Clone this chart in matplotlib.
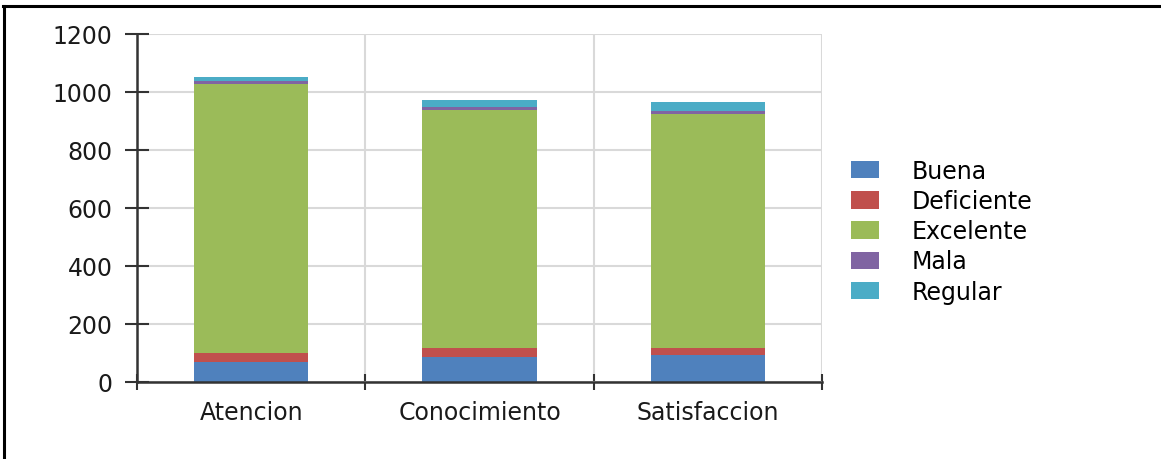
import numpy as np
import matplotlib
matplotlib.use('Agg')
import matplotlib.pyplot as plt
from matplotlib.lines import Line2D

plt.rcParams['font.family'] = ['DejaVu Sans']

categories = ['Atencion', 'Conocimiento', 'Satisfaccion']
series_names = ['Buena', 'Deficiente', 'Excelente', 'Mala', 'Regular']
buena = [70, 86, 94]
deficiente = [30, 31, 23]
excelente = [928, 821, 808]
mala = [10, 10, 8]
regular = [14, 25, 31]
colors = ['#4F81BD', '#C0504D', '#9BBB59', '#8064A2', '#4BACC6']

fig = plt.figure(figsize=(11.61, 4.60), dpi=100)
ax = fig.add_axes([137/1161, 77/460, (822-137)/1161, (383-35)/460])

x = np.arange(len(categories))
bottom = np.zeros(len(categories))
for name, vals, c in zip(series_names, [buena, deficiente, excelente, mala, regular], colors):
    ax.bar(x, vals, width=0.5, bottom=bottom, color=c, label=name, zorder=3)
    bottom += np.array(vals)

ax.set_xlim(-0.5, 2.5)
ax.set_ylim(0, 1200)
ax.set_yticks(range(0, 1201, 200))
ax.yaxis.grid(True, color='#d9d9d9', linewidth=1.5, zorder=0)
for b in [0.5, 1.5, 2.5]:
    ax.axvline(b, color='#d9d9d9', linewidth=1.5, zorder=0)

fs = 17
ax.set_xticks(x)
ax.set_xticklabels(categories)
ax.set_xticks([-0.5, 0.5, 1.5, 2.5], minor=True)
ax.tick_params(axis='x', which='major', length=0, pad=13, labelsize=fs, labelcolor='#1a1a1a')
ax.tick_params(axis='x', which='minor', direction='inout', length=12, width=1.5, color='#333333')
ax.tick_params(axis='y', direction='inout', length=17, width=1.5, color='#333333',
               pad=9, labelsize=fs, labelcolor='#1a1a1a')

for s in ['top', 'right']:
    ax.spines[s].set_visible(False)
for s in ['left', 'bottom']:
    ax.spines[s].set_color('#333333')
    ax.spines[s].set_linewidth(1.8)
    ax.spines[s].set_zorder(4)

fig.legend(loc='upper left', bbox_to_anchor=(851/1161, (460-160)/460),
           frameon=False, fontsize=fs, borderpad=0, borderaxespad=0,
           handlelength=1.2, handleheight=0.75, handletextpad=1.35, labelspacing=0.26)

# page border
fig.add_artist(Line2D([3/1161, 1], [1-7/460, 1-7/460], color='black', linewidth=2.2, transform=fig.transFigure))
fig.add_artist(Line2D([4/1161, 4/1161], [0, 1-7/460], color='black', linewidth=2.2, transform=fig.transFigure))

fig.savefig('out.png', dpi=100)
